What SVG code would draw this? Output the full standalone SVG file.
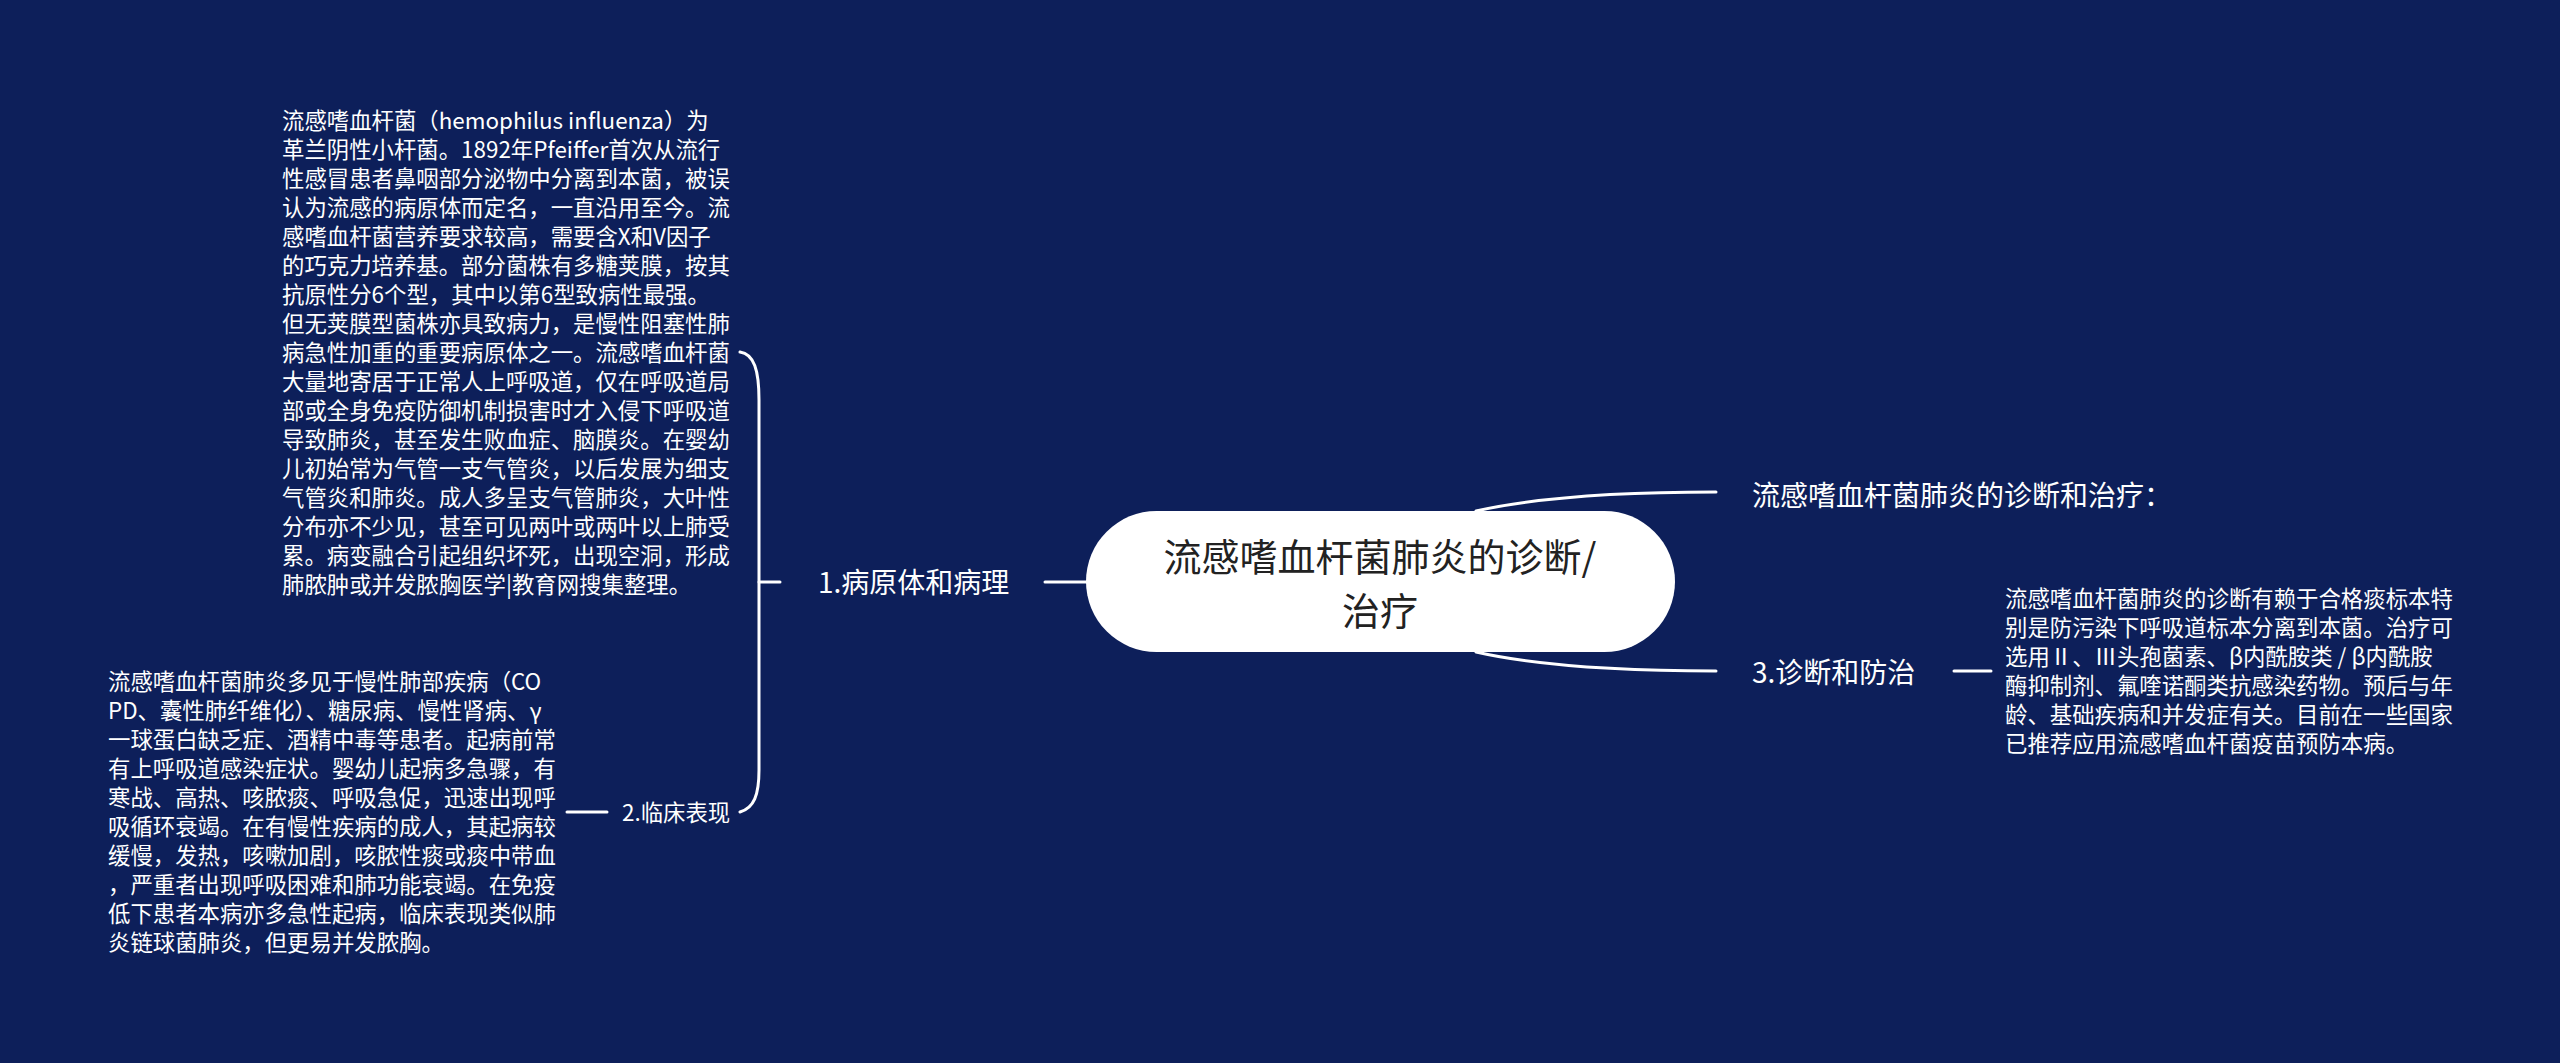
<svg xmlns="http://www.w3.org/2000/svg" width="2560" height="1063" viewBox="0 0 2560 1063">
<style>
  .bg { fill: #0d1f5a; }
  .conn { fill: none; stroke: #ffffff; stroke-width: 3; stroke-linecap: round; }
  .t { font-family: "Noto Sans CJK SC", "Noto Sans", sans-serif; fill: #ffffff; }
  .small { font-size: 22.4px; }
  .label { font-size: 28px; }
  .root { font-size: 38px; fill: #222222; }
</style>
<rect class="bg" x="0" y="0" width="2560" height="1063"/>

<g id="connectors">
  <path class="conn" d="M1045,582 L1095,582"/>
  <path class="conn" d="M759,582 L780,582"/>
  <path class="conn" d="M740,352 C754,354 759,370 759,400 L759,770 C759,795 754,808 740,812"/>
  <path class="conn" d="M567,812 L607,812"/>
  <path class="conn" d="M1476,511 Q1560,492 1716,492"/>
  <path class="conn" d="M1476,652 Q1560,671 1716,671"/>
  <path class="conn" d="M1954,671 L1991,671"/>
</g>

<g id="root">
  <rect x="1086" y="511" width="589" height="141" rx="70.5" fill="#ffffff"/>
  <text class="t root" text-anchor="middle" x="1380" y="571">流感嗜血杆菌肺炎的诊断/</text>
  <text class="t root" text-anchor="middle" x="1380" y="624.5">治疗</text>
</g>

<g id="node-1">
  <text class="t label" x="818" y="592.6">1.病原体和病理</text>
</g>

<g id="node-1-1">
  <text class="t small" x="282" y="128.5">
    <tspan x="282" dy="0">流感嗜血杆菌（hemophilus influenza）为</tspan>
    <tspan x="282" dy="29">革兰阴性小杆菌。1892年Pfeiffer首次从流行</tspan>
    <tspan x="282" dy="29">性感冒患者鼻咽部分泌物中分离到本菌，被误</tspan>
    <tspan x="282" dy="29">认为流感的病原体而定名，一直沿用至今。流</tspan>
    <tspan x="282" dy="29">感嗜血杆菌营养要求较高，需要含X和V因子</tspan>
    <tspan x="282" dy="29">的巧克力培养基。部分菌株有多糖荚膜，按其</tspan>
    <tspan x="282" dy="29">抗原性分6个型，其中以第6型致病性最强。</tspan>
    <tspan x="282" dy="29">但无荚膜型菌株亦具致病力，是慢性阻塞性肺</tspan>
    <tspan x="282" dy="29">病急性加重的重要病原体之一。流感嗜血杆菌</tspan>
    <tspan x="282" dy="29">大量地寄居于正常人上呼吸道，仅在呼吸道局</tspan>
    <tspan x="282" dy="29">部或全身免疫防御机制损害时才入侵下呼吸道</tspan>
    <tspan x="282" dy="29">导致肺炎，甚至发生败血症、脑膜炎。在婴幼</tspan>
    <tspan x="282" dy="29">儿初始常为气管一支气管炎，以后发展为细支</tspan>
    <tspan x="282" dy="29">气管炎和肺炎。成人多呈支气管肺炎，大叶性</tspan>
    <tspan x="282" dy="29">分布亦不少见，甚至可见两叶或两叶以上肺受</tspan>
    <tspan x="282" dy="29">累。病变融合引起组织坏死，出现空洞，形成</tspan>
    <tspan x="282" dy="29">肺脓肿或并发脓胸医学|教育网搜集整理。</tspan>
  </text>
</g>

<g id="node-2">
  <text class="t small" x="622" y="820.5">2.临床表现</text>
</g>

<g id="node-2-1">
  <text class="t small" x="108" y="690">
    <tspan x="108" dy="0">流感嗜血杆菌肺炎多见于慢性肺部疾病（CO</tspan>
    <tspan x="108" dy="29">PD、囊性肺纤维化）、糖尿病、慢性肾病、γ</tspan>
    <tspan x="108" dy="29">一球蛋白缺乏症、酒精中毒等患者。起病前常</tspan>
    <tspan x="108" dy="29">有上呼吸道感染症状。婴幼儿起病多急骤，有</tspan>
    <tspan x="108" dy="29">寒战、高热、咳脓痰、呼吸急促，迅速出现呼</tspan>
    <tspan x="108" dy="29">吸循环衰竭。在有慢性疾病的成人，其起病较</tspan>
    <tspan x="108" dy="29">缓慢，发热，咳嗽加剧，咳脓性痰或痰中带血</tspan>
    <tspan x="108" dy="29">，严重者出现呼吸困难和肺功能衰竭。在免疫</tspan>
    <tspan x="108" dy="29">低下患者本病亦多急性起病，临床表现类似肺</tspan>
    <tspan x="108" dy="29">炎链球菌肺炎，但更易并发脓胸。</tspan>
  </text>
</g>

<g id="node-title">
  <text class="t label" x="1752" y="505.6">流感嗜血杆菌肺炎的诊断和治疗：</text>
</g>

<g id="node-3">
  <text class="t label" x="1752" y="682.6">3.诊断和防治</text>
</g>

<g id="node-3-1">
  <text class="t small" x="2005" y="607">
    <tspan x="2005" dy="0">流感嗜血杆菌肺炎的诊断有赖于合格痰标本特</tspan>
    <tspan x="2005" dy="29">别是防污染下呼吸道标本分离到本菌。治疗可</tspan>
    <tspan x="2005" dy="29">选用Ⅱ、Ⅲ头孢菌素、β内酰胺类 / β内酰胺</tspan>
    <tspan x="2005" dy="29">酶抑制剂、氟喹诺酮类抗感染药物。预后与年</tspan>
    <tspan x="2005" dy="29">龄、基础疾病和并发症有关。目前在一些国家</tspan>
    <tspan x="2005" dy="29">已推荐应用流感嗜血杆菌疫苗预防本病。</tspan>
  </text>
</g>
</svg>
